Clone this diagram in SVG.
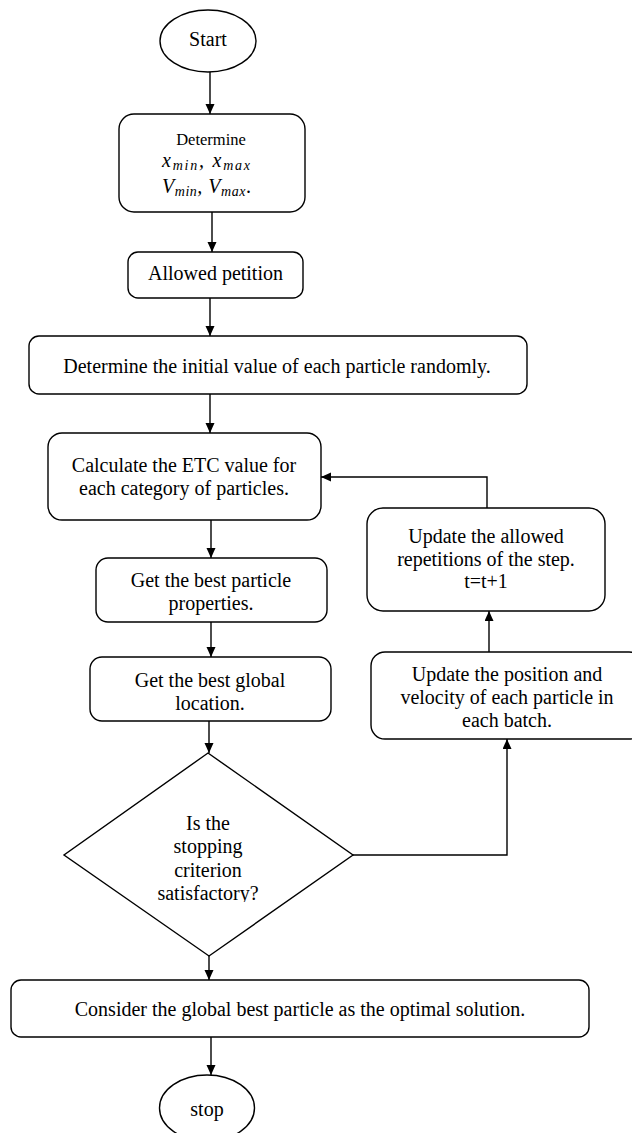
<svg xmlns="http://www.w3.org/2000/svg" width="632" height="1133" viewBox="0 0 632 1133">
<style>
.n{fill:#fff;stroke:#000;stroke-width:1.4}
.t{font-family:"Liberation Serif","Times New Roman",serif;font-size:20px;fill:#000;text-anchor:middle}
.m{font-family:"Liberation Serif","Times New Roman",serif;font-style:italic;font-size:20px;fill:#000}
.c{fill:none;stroke:#000;stroke-width:1.4;marker-end:url(#ah)}
</style>
<defs>
<marker id="ah" markerUnits="userSpaceOnUse" markerWidth="10" markerHeight="10" refX="10" refY="4.5" orient="auto">
<path d="M0,0 L10,4.5 L0,9 z" fill="#000"/>
</marker>
<clipPath id="dclip"><rect x="0" y="740" width="632" height="162"/></clipPath>
</defs>
<rect width="632" height="1133" fill="#fff"/>
<g id="connectors">
<path class="c" d="M210,72 V114"/>
<path class="c" d="M212,212 V252"/>
<path class="c" d="M210,298 V336"/>
<path class="c" d="M210,394 V433"/>
<path class="c" d="M211,520 V558"/>
<path class="c" d="M211,622 V657"/>
<path class="c" d="M209,721 V753"/>
<path class="c" d="M209,956 V980"/>
<path class="c" d="M211,1037 V1075"/>
<path class="c" d="M353,855 H507 V739"/>
<path class="c" d="M489,652 V611"/>
<path class="c" d="M487,508 V477 H321"/>
</g>
<g id="start">
<ellipse class="n" cx="208" cy="41" rx="48" ry="31"/>
<text class="t" x="208" y="46">Start</text>
</g>
<g id="determine">
<rect class="n" x="119" y="114" width="186" height="98" rx="15"/>
<text class="t" x="211" y="145" style="font-size:16.5px">Determine</text>
<text class="m" x="162" y="167" textLength="88" lengthAdjust="spacing">x<tspan font-size="14" dy="3">min</tspan><tspan dy="-3">, x</tspan><tspan font-size="14" dy="3">max</tspan></text>
<text class="m" x="162" y="193" textLength="89" lengthAdjust="spacing">V<tspan font-size="14" dy="3">min</tspan><tspan dy="-3">, V</tspan><tspan font-size="14" dy="3">max</tspan><tspan dy="-3" font-style="normal">.</tspan></text>
</g>
<g id="allowed">
<rect class="n" x="128" y="252" width="175" height="46" rx="10"/>
<text class="t" x="215.5" y="280">Allowed petition</text>
</g>
<g id="init">
<rect class="n" x="29" y="336" width="498" height="58" rx="10"/>
<text class="t" x="277" y="373">Determine the initial value of each particle randomly.</text>
</g>
<g id="calc">
<rect class="n" x="48" y="433" width="273" height="87" rx="14"/>
<text class="t" x="184" y="472">Calculate the ETC value for</text>
<text class="t" x="184" y="495">each category of particles.</text>
</g>
<g id="particle">
<rect class="n" x="96" y="558" width="231" height="64" rx="12"/>
<text class="t" x="211" y="587">Get the best particle</text>
<text class="t" x="211" y="610">properties.</text>
</g>
<g id="global">
<rect class="n" x="90" y="657" width="241" height="64" rx="12"/>
<text class="t" x="210" y="687">Get the best global</text>
<text class="t" x="210" y="710">location.</text>
</g>
<g id="decision">
<polygon class="n" points="208,753 353,855 209,956 64,855"/>
<g clip-path="url(#dclip)">
<text class="t" x="208" y="830">Is the</text>
<text class="t" x="208" y="853">stopping</text>
<text class="t" x="208" y="877">criterion</text>
<text class="t" x="208" y="900">satisfactory?</text>
</g>
</g>
<g id="update-rep">
<rect class="n" x="367" y="508" width="238" height="103" rx="16"/>
<text class="t" x="486" y="543">Update the allowed</text>
<text class="t" x="486" y="566">repetitions of the step.</text>
<text class="t" x="486" y="588">t=t+1</text>
</g>
<g id="update-pos">
<rect class="n" x="371" y="652" width="272" height="87" rx="14"/>
<text class="t" x="507" y="681">Update the position and</text>
<text class="t" x="507" y="704">velocity of each particle in</text>
<text class="t" x="507" y="727">each batch.</text>
</g>
<g id="consider">
<rect class="n" x="11" y="980" width="578" height="57" rx="10"/>
<text class="t" x="300" y="1016">Consider the global best particle as the optimal solution.</text>
</g>
<g id="stop">
<ellipse class="n" cx="207" cy="1108" rx="47.5" ry="33"/>
<text class="t" x="207" y="1116">stop</text>
</g>
</svg>
